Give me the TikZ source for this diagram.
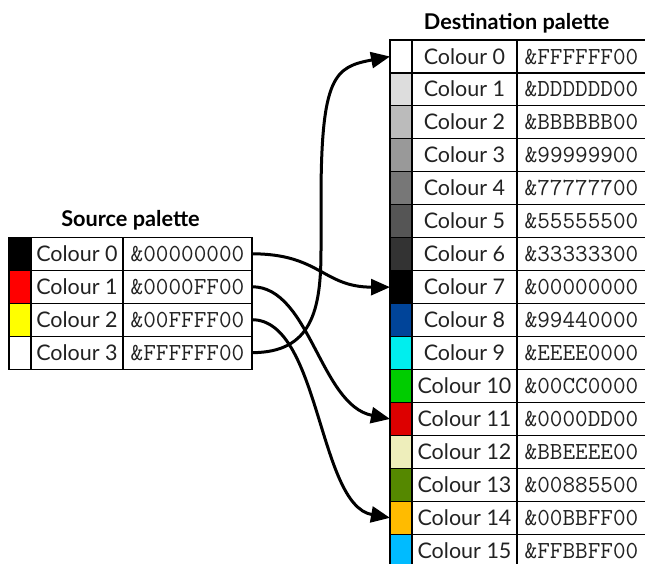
\documentclass[tikz,border=0pt]{standalone}
\usepackage{fontspec}
\usetikzlibrary{arrows.meta}
\setmainfont{Lato}
\newfontfamily\monof{Latin Modern Mono}
\definecolor{d0}{HTML}{FFFFFF}
\definecolor{d1}{HTML}{DDDDDD}
\definecolor{d2}{HTML}{BBBBBB}
\definecolor{d3}{HTML}{999999}
\definecolor{d4}{HTML}{777777}
\definecolor{d5}{HTML}{555555}
\definecolor{d6}{HTML}{333333}
\definecolor{d7}{HTML}{000000}
\definecolor{d8}{HTML}{004499}
\definecolor{d9}{HTML}{00EEEE}
\definecolor{d10}{HTML}{00CC00}
\definecolor{d11}{HTML}{DD0000}
\definecolor{d12}{HTML}{EEEEBB}
\definecolor{d13}{HTML}{558800}
\definecolor{d14}{HTML}{FFBB00}
\definecolor{d15}{HTML}{00BBFF}
\definecolor{s0}{HTML}{000000}
\definecolor{s1}{HTML}{FF0000}
\definecolor{s2}{HTML}{FFFF00}
\definecolor{s3}{HTML}{FFFFFF}
\definecolor{txt}{HTML}{222222}
\begin{document}
\begin{tikzpicture}[x=1pt,y=-1pt,
  cell/.style={draw=black, line width=1.1pt, minimum height=32.95pt, inner sep=0pt, outer sep=0pt, text height=19pt, text depth=4pt, text=txt},
  swatch/.style={cell, minimum width=22pt},
  srcname/.style={cell, minimum width=92pt, font=\fontsize{21.5}{24}\selectfont},
  dstname/.style={cell, minimum width=105pt, font=\fontsize{21.5}{24}\selectfont},
  valcell/.style={cell, minimum width=129pt, font=\monof\fontsize{24.5}{26}\selectfont},
  ttl/.style={anchor=base, inner sep=0pt, font=\bfseries\fontsize{21.7}{24}\selectfont},
  arr/.style={line width=3pt, -{Triangle[length=19pt,width=16pt]}},
]
\useasboundingbox (0,0) rectangle (645,563);
\clip (0,0) rectangle (645,563);
\node[ttl] (srctitle) at (130.5,226.7) {Source palette};
\node[ttl] (dsttitle) at (516.7,29) {Destination palette};
\foreach \i/\v in {0/00000000,1/0000FF00,2/00FFFF00,3/FFFFFF00} {
  \pgfmathsetmacro\yy{253.8+32.95*\i}
  \node[swatch, fill=s\i] (ss\i) at (20,\yy) {};
  \node[srcname] (sn\i) at (77,\yy) {Colour \i};
  \node[valcell] (sv\i) at (187.5,\yy) {\&\v};
}
\foreach \i/\v in {0/FFFFFF00,1/DDDDDD00,2/BBBBBB00,3/99999900,4/77777700,5/55555500,6/33333300,7/00000000,8/99440000,9/EEEE0000,10/00CC0000,11/0000DD00,12/BBEEEE00,13/00885500,14/00BBFF00,15/FFBBFF00} {
  \pgfmathsetmacro\yy{56.5+32.95*\i}
  \node[swatch, fill=d\i] (dc\i) at (401,\yy) {};
  \node[dstname] (dn\i) at (464.5,\yy) {Colour \i};
  \node[valcell] (dv\i) at (581.5,\yy) {\&\v};
}
\draw[arr] (sv0.east) .. controls (320,253.8) and (323,287.1) .. (dc7.west);
\draw[arr] (sv1.east) .. controls (310,286.7) and (320,405) .. (dc11.west);
\draw[arr] (sv2.east) .. controls (320,319.7) and (318,505) .. (dc14.west);
\draw[arr] (sv3.east) .. controls (312,352.6) and (321,310) .. (321,250) -- (321,200) .. controls (321,75) and (335,67) .. (dc0.west);
\end{tikzpicture}
\end{document}
